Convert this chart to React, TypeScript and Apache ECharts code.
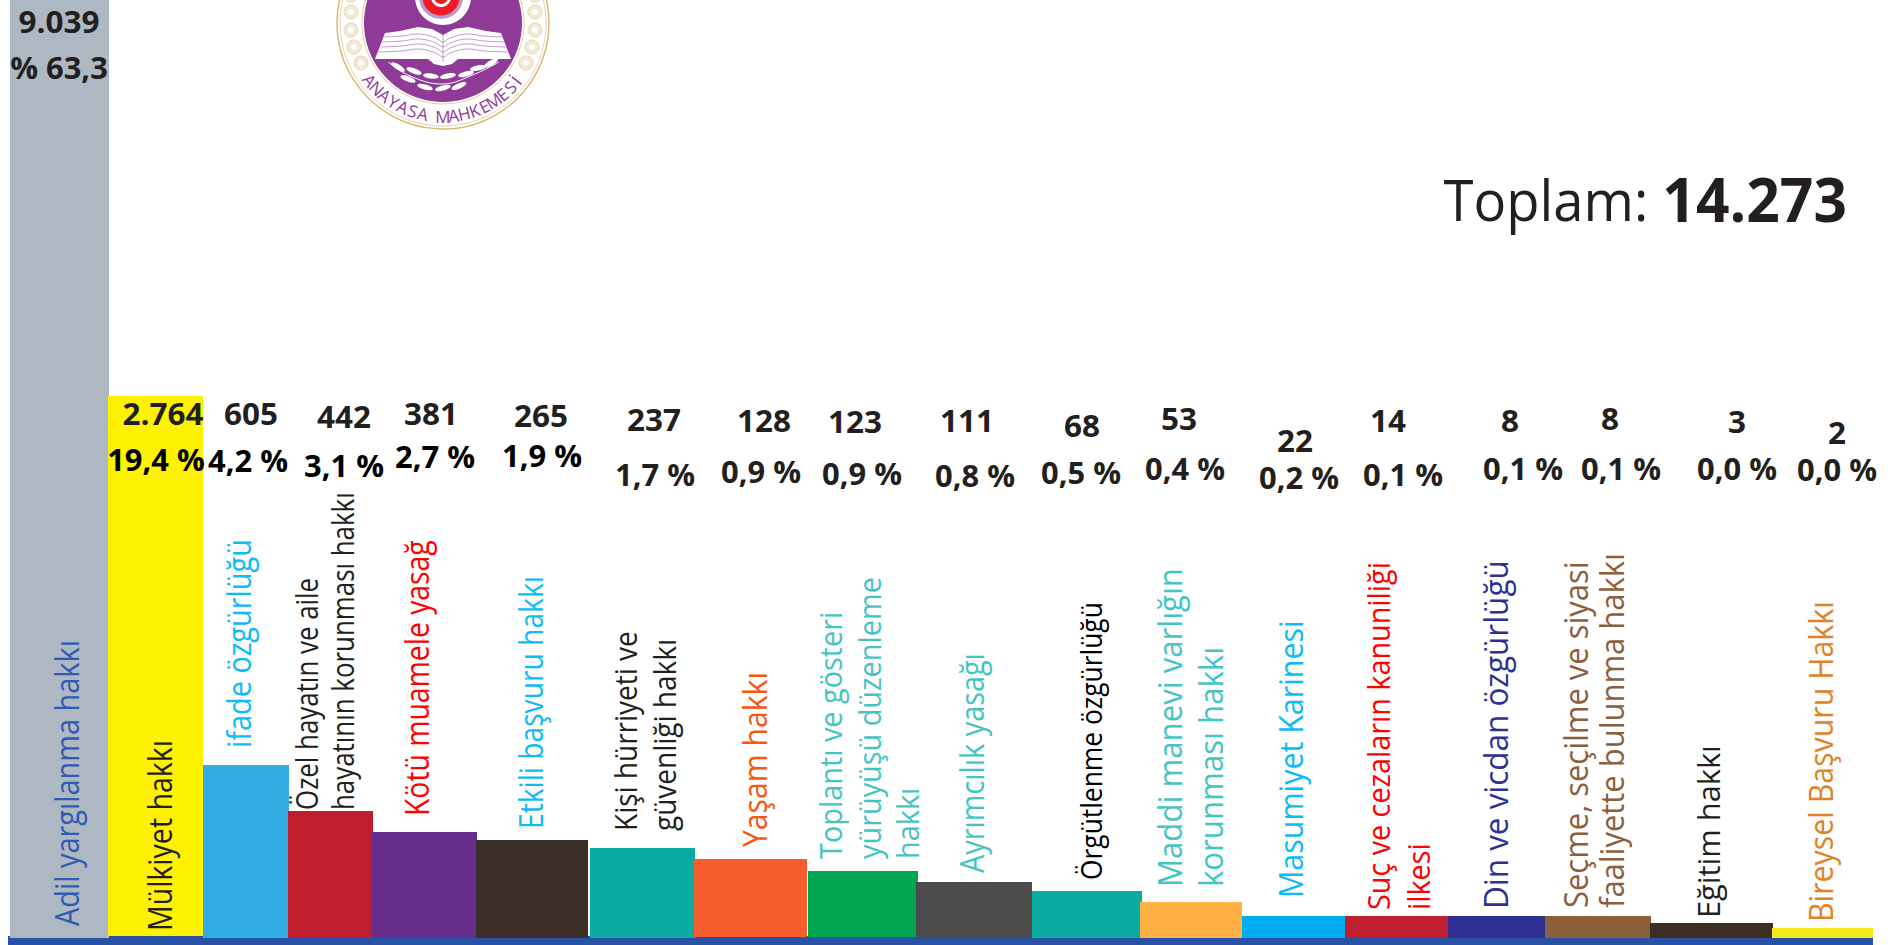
import React, { useEffect, useRef } from "react";
import * as echarts from "echarts";

// ---------- data ----------
const categories = [
  "Adil yargılanma hakkı",
  "Mülkiyet hakkı",
  "ifade özgürlüğü",
  "Özel hayatın ve aile\nhayatının korunması hakkı",
  "Kötü muamele yasağ",
  "Etkili başvuru hakkı",
  "Kişi hürriyeti ve\ngüvenliği hakkı",
  "Yaşam hakkı",
  "Toplantı ve gösteri\nyürüyüşü düzenleme\nhakkı",
  "Ayrımcılık yasağı",
  "Örgütlenme özgürlüğü",
  "Maddi manevi varlığın\nkorunması hakkı",
  "Masumiyet Karinesi",
  "Suç ve cezaların kanuniliği\nilkesi",
  "Din ve vicdan özgürlüğü",
  "Seçme, seçilme ve siyasi\nfaaliyette bulunma hakkı",
  "Eğitim hakkı",
  "Bireysel Başvuru Hakkı",
];
const caseCounts = [9039, 2764, 605, 442, 381, 265, 237, 128, 123, 111, 68, 53, 22, 14, 8, 8, 3, 2];
const shares = [63.3, 19.4, 4.2, 3.1, 2.7, 1.9, 1.7, 0.9, 0.9, 0.8, 0.5, 0.4, 0.2, 0.1, 0.1, 0.1, 0.0, 0.0];
const totalCount = "14.273";

// The infographic's bars are not to scale: these are the drawn lengths.
const drawnLengths = [945, 542, 173, 127, 106, 98, 90, 79, 67, 56, 47, 36, 22, 22, 22, 22, 15, 10];
// Bars have hand-set widths: start and end along the horizontal axis.
const barStarts = [10, 108, 203, 288, 372, 476, 590, 694, 808, 916, 1032, 1140, 1242, 1345, 1448, 1545, 1650, 1772];
const barEnds = [109, 203, 289, 373, 477, 588, 695, 807, 918, 1032, 1142, 1242, 1345, 1448, 1545, 1651, 1773, 1873];
const barFloors = [0, 2, 0, 0, 0, 0, 0, 1, 1, 0, 0, 0, 0, 0, 0, 0, 0, 0];
const baseLineSpan = [8, 1873];

// ---------- styles ----------
const barColors = ["#aeb8c2", "#fff200", "#31ade4", "#bf1e2e", "#662d8c", "#3b2e26", "#0aaba2", "#f65c2d", "#00a651", "#4d4a4b", "#0aaba0", "#ffb145", "#00aeef", "#be1e2d", "#2e3192", "#8b5e3c", "#3c2e24", "#f2ea1b"];
const nameColors = ["#2f5bb5", "#231f20", "#0cbcf5", "#231f20", "#ff0000", "#0cbcf5", "#231f20", "#f9560f", "#45c4c4", "#45c4c4", "#000000", "#45c4c4", "#0cbcf5", "#ff0000", "#2e3192", "#8b5e3c", "#231f20", "#e08228"];
const shareColors = ["#231f20", "#000000", "#000000", "#000000", "#000000", "#000000", "#231f20", "#231f20", "#231f20", "#231f20", "#231f20", "#231f20", "#231f20", "#231f20", "#231f20", "#231f20", "#231f20", "#231f20"];
const baseLineColor = "#2852a5";
const FONT = "'Open Sans'";
const PURPLE = "#8e3a96";
const GOLD = "#dcb46e";

// ---------- label layout ----------
const countX = [59, 163, 251, 344, 431, 541, 654, 764, 855, 967, 1082, 1179, 1295, 1388, 1510, 1610, 1737, 1837];
const countY = [21, 413, 413, 416, 413, 415, 419, 420, 421, 420, 425, 418, 440, 420, 420, 418, 421, 432];
const shareX = [59, 156, 248, 344, 435, 542, 655, 761, 862, 975, 1081, 1185, 1299, 1403, 1523, 1621, 1737, 1837];
const shareY = [67, 459, 460, 465, 456, 455, 474, 471, 473, 475, 472, 468, 477, 474, 468, 468, 468, 469];
const nameX = [66, 159.5, 238.5, 323.5, 416.5, 530.5, 644, 753.5, 869, 971, 1090, 1190, 1290, 1398, 1495, 1593, 1707.5, 1821];
const nameBottom = [926, 931, 748, 810, 816, 829, 831, 847, 859, 873, 880, 887, 898, 910, 909, 908, 918, 922];
const nameLength = [286, 191, 209, 318, 276, 253, 200, 175, 282, 220, 278, 319, 278, 348, 349, 355, 173, 321];
const nameLineHeight = [36, 36, 36, 36, 36, 36, 39, 36, 38.5, 36, 36, 41, 36, 40, 36, 36, 36, 36];
const nameFontSize = [33, 32, 33, 31, 33, 33, 31, 33, 31, 33, 29, 32, 33, 31, 32, 32, 31, 32];

const measureCtx = document.createElement("canvas").getContext("2d") as CanvasRenderingContext2D;
function fitScale(text: string, size: number, target: number) {
  measureCtx.font = `${size}px ${FONT}`;
  const widest = Math.max(...text.split("\n").map((l) => measureCtx.measureText(l).width));
  return target / widest;
}

function formatCount(n: number) {
  return String(n).replace(/\B(?=(\d{3})+$)/g, ".");
}
function formatShare(p: number, i: number) {
  const s = p.toFixed(1).replace(".", ",");
  return i === 0 ? `% ${s}` : `${s} %`;
}

// ---------- emblem ----------
const LOGO = { cx: 443, cy: 23, outer: 106, thin: 103, inner: 79, letterRing: 93 };
const beadPoints = [[351, -5], [351, 12], [351, 30], [354, 47], [361, 63], [535, -5], [535, 12], [535, 30], [532, 47], [526, 63]];
const leafPoints = [[398, 67, 32], [414, 71, 20], [408, 79, 20], [431, 76, 8], [425, 87, 14], [448, 76, -10], [443, 88, -14], [466, 74, -14], [459, 86, -24], [478, 68, -10], [491, 63, -30]];
const letterText = "ANAYASA MAHKEMESİ";
const letterAngles = [-52, -45.4, -38.8, -32.2, -25.6, -19, -12.5, 0, 0, 6.6, 13.2, 19.8, 26.4, 33, 39.8, 46.4, 52];
const bookOutline = [[385, 33], [400, 31], [418, 27], [432, 29], [443, 35], [454, 29], [468, 27], [486, 31], [501, 33], [511, 59], [458, 59], [452, 64], [443, 66], [434, 64], [428, 59], [375, 59]];

function logoElements() {
  const { cx, cy, outer, thin, inner, letterRing } = LOGO;
  const els: any[] = [
    { type: "circle", shape: { cx, cy, r: outer }, style: { fill: "#fff", stroke: GOLD, lineWidth: 1.4 } },
    { type: "circle", shape: { cx, cy, r: thin }, style: { fill: "none", stroke: GOLD, lineWidth: 0.6 } },
    { type: "circle", shape: { cx, cy, r: inner + 2 }, style: { fill: "none", stroke: GOLD, lineWidth: 0.7 } },
    { type: "circle", shape: { cx, cy, r: inner }, style: { fill: PURPLE } },
  ];
  beadPoints.forEach(([x, y]) => {
    els.push({ type: "circle", shape: { cx: x, cy: y, r: 7 }, style: { fill: "#f3ead6", stroke: "#e3cfa3", lineWidth: 0.8 } });
    els.push({ type: "circle", shape: { cx: x, cy: y, r: 3 }, style: { fill: "#ffffff" } });
  });
  // crescent and star roundel
  els.push({ type: "ellipse", shape: { cx, cy: -3, rx: 28, ry: 28 }, style: { fill: "#ffffff" } });
  els.push({ type: "ellipse", shape: { cx: 441, cy: -3, rx: 22, ry: 22 }, style: { fill: "#b79ad0" } });
  els.push({ type: "ellipse", shape: { cx: 441, cy: -3, rx: 18.5, ry: 18.5 }, style: { fill: "#f01c24" } });
  els.push({ type: "ring", shape: { cx: 441, cy: -3, r: 10, r0: 7 }, style: { fill: "#ffffff" } });
  // open book
  els.push({ type: "polygon", shape: { points: bookOutline }, style: { fill: "#ffffff" } });
  [37, 42, 47, 52].forEach((y, k) => {
    els.push({ type: "polyline", shape: { smooth: 0.4, points: [[384 - k * 2, y], [402, y - 1], [420, y - 3], [436, y + 1], [443, y + 5], [450, y + 1], [466, y - 3], [484, y - 1], [502 + k * 2, y]] }, style: { fill: "none", stroke: "#b77fc0", lineWidth: 0.8 } });
  });
  els.push({ type: "line", shape: { x1: 443, y1: 35, x2: 443, y2: 62 }, style: { stroke: "#b77fc0", lineWidth: 0.8 } });
  // olive branch
  els.push({ type: "polyline", shape: { smooth: 0.4, points: [[388, 62], [410, 76], [443, 84], [475, 74], [499, 62]] }, style: { fill: "none", stroke: "#ffffff", lineWidth: 1 } });
  leafPoints.forEach(([x, y, deg]) => {
    // positive degrees tilt a leaf down towards the right
    els.push({ type: "ellipse", x, y, rotation: (-deg * Math.PI) / 180, shape: { cx: 0, cy: 0, rx: 8, ry: 2.6 }, style: { fill: "#ffffff" } });
  });
  // lettering round the bottom of the ring
  letterText.split("").forEach((ch, i) => {
    if (ch === " ") return;
    const a = (letterAngles[i] * Math.PI) / 180;
    els.push({
      type: "text",
      x: cx + letterRing * Math.sin(a),
      y: cy + letterRing * Math.cos(a),
      rotation: a,
      style: { text: ch, font: `500 17px ${FONT}`, fill: PURPLE, textAlign: "center", textVerticalAlign: "middle" },
    });
  });
  return els;
}

function labelElements() {
  const els: any[] = [];
  categories.forEach((name, i) => {
    const size = nameFontSize[i];
    els.push({
      type: "text",
      x: nameX[i],
      y: nameBottom[i],
      rotation: Math.PI / 2,
      scaleX: fitScale(name, size, nameLength[i]),
      style: { text: name, font: `${size}px ${FONT}`, fill: nameColors[i], textAlign: "left", textVerticalAlign: "middle", lineHeight: nameLineHeight[i] },
    });
    els.push({
      type: "text",
      x: countX[i],
      y: countY[i],
      scaleX: 1.05,
      style: { text: formatCount(caseCounts[i]), font: `700 30px ${FONT}`, fill: "#231f20", textAlign: "center", textVerticalAlign: "middle" },
    });
    els.push({
      type: "text",
      x: shareX[i],
      y: shareY[i],
      scaleX: 1.03,
      style: { text: formatShare(shares[i], i), font: `700 30px ${FONT}`, fill: shareColors[i], textAlign: "center", textVerticalAlign: "middle" },
    });
  });
  return els;
}

function totalElement() {
  return {
    type: "text",
    x: 1847,
    y: 198,
    scaleX: 0.955,
    style: {
      text: `{a|Toplam: }{b|${totalCount}}`,
      textAlign: "right",
      textVerticalAlign: "middle",
      fill: "#231f20",
      rich: {
        a: { font: `400 57px ${FONT}`, fill: "#231f20" },
        b: { font: `700 61.5px ${FONT}`, fill: "#231f20" },
      },
    },
  };
}

export default function App() {
  const ref = useRef<HTMLDivElement>(null);
  useEffect(() => {
    document.documentElement.style.overflow = "hidden";
    document.body.style.margin = "0";
    const chart = echarts.init(ref.current as HTMLDivElement, undefined, { renderer: "svg" });
    const rectItem = (color: string, params: any, api: any) => {
      const p0 = api.coord([api.value(0), api.value(3)]);
      const p1 = api.coord([api.value(1), api.value(2)]);
      return {
        type: "rect",
        shape: { x: p0[0], y: p1[1], width: p1[0] - p0[0], height: p0[1] - p1[1] },
        style: { fill: color },
      };
    };
    chart.setOption({
      animation: false,
      backgroundColor: "#ffffff",
      grid: { left: 0, right: 0, top: 0, bottom: 0 },
      xAxis: { type: "value", min: 0, max: 1899, show: false },
      yAxis: { type: "value", min: -7, max: 938, show: false },
      tooltip: { show: false },
      series: [
        {
          type: "custom",
          name: "base",
          z: 1,
          encode: { x: [0, 1], y: [2, 3] },
          data: [[baseLineSpan[0], baseLineSpan[1], 2, -7]],
          renderItem: (p: any, api: any) => rectItem(baseLineColor, p, api),
        },
        {
          type: "custom",
          name: "Başvuru",
          z: 2,
          encode: { x: [0, 1], y: [2, 3] },
          data: categories.map((_, i) => [barStarts[i], barEnds[i], drawnLengths[i], barFloors[i]]),
          renderItem: (p: any, api: any) => rectItem(barColors[p.dataIndex], p, api),
        },
      ],
      graphic: { elements: [...logoElements(), ...labelElements(), totalElement()].map((e) => ({ ...e, z: 100 })) },
    });
    return () => chart.dispose();
  }, []);
  return <div ref={ref} style={{ position: "absolute", left: 0, top: 0, width: 1899, height: 945 }} />;
}
